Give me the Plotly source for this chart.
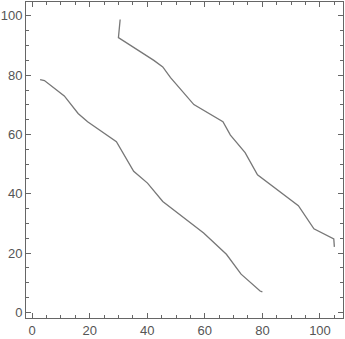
import plotly.graph_objects as go

line1_x = [2.8, 4.3, 11.2, 16.0, 19.3, 29.3, 35.3, 40.1, 45.4, 59.6, 67.5, 72.6, 79.2, 80.0]
line1_y = [78.5, 78.2, 73.0, 67.1, 64.3, 57.6, 47.6, 43.6, 37.4, 26.8, 19.6, 12.9, 7.2, 6.9]

line2_x = [30.6, 30.2, 30.0, 42.3, 45.4, 48.1, 56.2, 66.3, 68.9, 74.0, 78.3, 92.5, 97.9, 104.8, 105.0]
line2_y = [98.8, 95.7, 92.7, 85.0, 82.8, 79.2, 70.1, 64.3, 59.8, 53.9, 46.4, 36.0, 28.2, 24.8, 22.1]

line_color = "#777777"
frame_color = "#666666"

fig = go.Figure()
fig.add_trace(go.Scatter(x=line1_x, y=line1_y, mode="lines",
                         line=dict(color=line_color, width=1.3), showlegend=False))
fig.add_trace(go.Scatter(x=line2_x, y=line2_y, mode="lines",
                         line=dict(color=line_color, width=1.3), showlegend=False))

axis_common = dict(
    showgrid=False, zeroline=False,
    showline=True, linecolor=frame_color, linewidth=1, mirror="allticks",
    ticks="inside", ticklen=5, tickwidth=1, tickcolor=frame_color,
    tickfont=dict(family="Liberation Sans, Arial, sans-serif", size=13, color="#555555"),
    minor=dict(dtick=5, ticks="inside", ticklen=3, tickwidth=1, tickcolor=frame_color, showgrid=False),
)

fig.update_xaxes(range=[-2.1, 108.0], dtick=20, tick0=0, **axis_common)
fig.update_yaxes(range=[-1.9, 104.7], dtick=20, tick0=0, **axis_common)

fig.update_layout(
    width=345, height=339,
    margin=dict(l=25, r=2, t=1, b=20),
    paper_bgcolor="white", plot_bgcolor="white",
)

fig.write_html("out.html")
